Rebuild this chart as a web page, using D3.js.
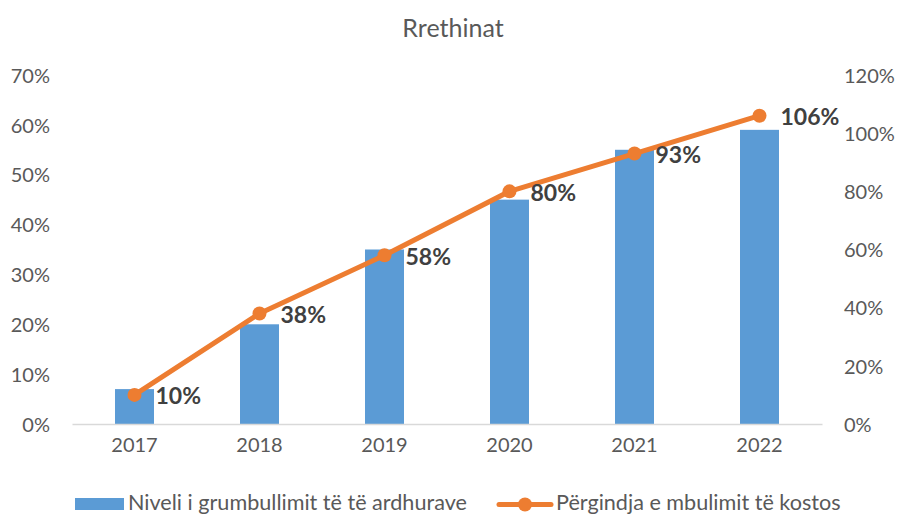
<!DOCTYPE html>
<html>
<head>
<meta charset="utf-8">
<script src="https://cdn.jsdelivr.net/npm/d3@7"></script>
<style>
  html, body { margin: 0; padding: 0; background: #fff; }
  svg { display: block; font-family: Lato, "Open Sans", sans-serif; }
</style>
</head>
<body>
<svg id="chart" width="898" height="515"></svg>
<script>
// Years and the two series
const years = ["2017", "2018", "2019", "2020", "2021", "2022"];
const revenueLevel = [0.07, 0.20, 0.35, 0.45, 0.55, 0.59];      // bars, left axis
const costCoverage = [0.10, 0.38, 0.58, 0.80, 0.93, 1.06];      // line, right axis
const leftTicks = [0, 0.1, 0.2, 0.3, 0.4, 0.5, 0.6, 0.7];
const rightTicks = [0, 0.2, 0.4, 0.6, 0.8, 1.0, 1.2];
const title = "Rrethinat";
const barName = "Niveli i grumbullimit të të ardhurave";
const lineName = "Përgindja e mbulimit të kostos";

const svg = d3.select("#chart");
const plot = { left: 72, right: 822, top: 75, bottom: 424 };
const BLUE = "#5b9bd5", ORANGE = "#ed7d31", AXIS_TEXT = "#595959", LABEL = "#404040";

const x = d3.scaleBand().domain(years)
  .range([plot.left, plot.right])
  .paddingInner(0.688).paddingOuter(0.344);
const yL = d3.scaleLinear().domain([0, 0.7]).range([plot.bottom, plot.top]);
const yR = d3.scaleLinear().domain([0, 1.2]).range([plot.bottom, plot.top]);
const pct = d3.format(".0%");
const cx = d => x(d) + x.bandwidth() / 2;

// Title
svg.append("text")
  .attr("x", 453).attr("y", 36.5)
  .attr("text-anchor", "middle")
  .attr("fill", AXIS_TEXT)
  .style("font-size", "25px")
  .text(title);

// Left axis
const gL = svg.append("g")
  .attr("transform", `translate(${plot.left},0)`)
  .call(d3.axisLeft(yL).tickValues(leftTicks).tickFormat(pct).tickSize(0).tickPadding(22));
gL.select(".domain").remove();
gL.selectAll("text").attr("fill", AXIS_TEXT).style("font-size", "20px")
  .style("font-family", "Lato, sans-serif").attr("dy", "0.36em");

// Right axis
const gR = svg.append("g")
  .attr("transform", `translate(${plot.right},0)`)
  .call(d3.axisRight(yR).tickValues(rightTicks).tickFormat(pct).tickSize(0).tickPadding(22));
gR.select(".domain").remove();
gR.selectAll("text").attr("fill", AXIS_TEXT).style("font-size", "20px")
  .style("font-family", "Lato, sans-serif").attr("dy", "0.36em");

// Bars
svg.append("g").selectAll("rect")
  .data(years)
  .join("rect")
  .attr("x", d => x(d))
  .attr("width", x.bandwidth())
  .attr("y", (d, i) => yL(revenueLevel[i]))
  .attr("height", (d, i) => yL(0) - yL(revenueLevel[i]))
  .attr("fill", BLUE);

// Category axis
const gX = svg.append("g")
  .attr("transform", `translate(0,${plot.bottom})`)
  .call(d3.axisBottom(x).tickSize(0).tickPadding(14));
gX.select(".domain").attr("stroke", "#d9d9d9").attr("stroke-width", 1.5);
gX.selectAll("text").attr("fill", AXIS_TEXT).style("font-size", "20px")
  .style("font-family", "Lato, sans-serif").attr("dy", "0.71em");

// Line series
const line = d3.line()
  .x(d => cx(d.year))
  .y(d => yR(d.v));
const pts = years.map((year, i) => ({ year, v: costCoverage[i] }));
svg.append("path")
  .datum(pts)
  .attr("d", line)
  .attr("fill", "none")
  .attr("stroke", ORANGE)
  .attr("stroke-width", 5)
  .attr("stroke-linejoin", "round")
  .attr("stroke-linecap", "round");
svg.append("g").selectAll("circle")
  .data(pts)
  .join("circle")
  .attr("cx", d => cx(d.year))
  .attr("cy", d => yR(d.v))
  .attr("r", 7)
  .attr("fill", ORANGE);

// Value labels for the line
svg.append("g").selectAll("text")
  .data(pts)
  .join("text")
  .attr("x", d => cx(d.year) + 21)
  .attr("y", d => yR(d.v) + 1)
  .attr("dy", "0.36em")
  .attr("fill", LABEL)
  .style("font-size", "23px")
  .style("font-weight", "bold")
  .text(d => pct(d.v));

// Legend
const lg = svg.append("g");
lg.append("rect").attr("x", 75).attr("y", 498).attr("width", 49).attr("height", 12).attr("fill", BLUE);
lg.append("text").attr("x", 128).attr("y", 510).attr("fill", AXIS_TEXT)
  .style("font-size", "21.6px").text(barName);
lg.append("line").attr("x1", 499).attr("x2", 551).attr("y1", 504.5).attr("y2", 504.5)
  .attr("stroke", ORANGE).attr("stroke-width", 5).attr("stroke-linecap", "round");
lg.append("circle").attr("cx", 525).attr("cy", 504.5).attr("r", 7).attr("fill", ORANGE);
lg.append("text").attr("x", 556).attr("y", 510).attr("fill", AXIS_TEXT)
  .style("font-size", "21.6px").text(lineName);
</script>
</body>
</html>
